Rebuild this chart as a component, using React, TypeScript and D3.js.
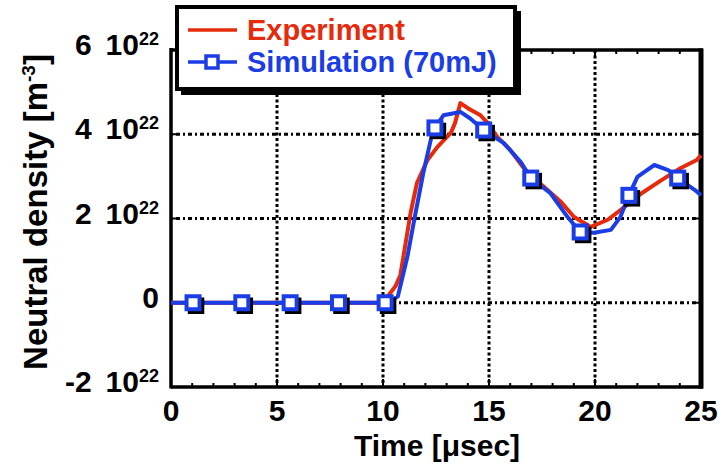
import * as d3 from 'd3';
import React, { useRef, useEffect } from 'react';

// values (density in 1e22 m^-3, time in usec)
const expTime = [0, 10.0, 10.3, 10.6, 10.82, 10.96, 11.3, 11.6, 12.1, 12.57, 13.2, 13.4, 13.65, 14.0, 14.6, 14.9, 15.4, 16.0, 16.6, 17.1, 17.6, 18.4, 19.0, 19.8, 20.6, 21.2, 22.2, 23.1, 24.05, 24.8, 25];
const expDensity = [0, 0, 0.2, 0.4, 0.66, 1.09, 2.13, 2.84, 3.39, 3.7, 4.03, 4.27, 4.74, 4.62, 4.45, 4.29, 3.93, 3.63, 3.22, 2.95, 2.75, 2.39, 2.04, 1.8, 1.97, 2.2, 2.6, 2.9, 3.2, 3.39, 3.5];

const simTime = [0, 1.04, 3.34, 5.62, 7.9, 10.1, 10.3, 10.7, 11.15, 11.5, 11.9, 12.25, 12.45, 12.85, 13.65, 14.1, 14.75, 15.7, 16.5, 16.97, 17.9, 18.7, 19.3, 19.95, 20.75, 21.2, 21.6, 22.0, 22.8, 23.45, 23.9, 24.7, 25];
const simDensity = [0, 0, 0, 0, 0, 0, 0.02, 0.15, 1.09, 2.04, 3.08, 3.86, 4.15, 4.45, 4.53, 4.38, 4.1, 3.79, 3.34, 2.96, 2.6, 2.04, 1.68, 1.66, 1.73, 2.04, 2.55, 2.99, 3.27, 3.15, 2.96, 2.68, 2.55];

const markerTime = [1.04, 3.34, 5.62, 7.9, 10.1, 12.45, 14.75, 16.97, 19.3, 21.6, 23.9];
const markerDensity = [0, 0, 0, 0, 0, 4.15, 4.1, 2.96, 1.68, 2.55, 2.96];

const xTicks = [0, 5, 10, 15, 20, 25];
const yTicks = [-2, 0, 2, 4, 6];
const legendLabels = ['Experiment', 'Simulation (70mJ)'];

const RED = '#e62a0c';
const BLUE = '#1b3de6';
const FONT = "'Liberation Sans', Arial, Helvetica, sans-serif";

function App() {
  const ref = useRef<SVGSVGElement>(null);

  useEffect(() => {
    const svg = d3.select(ref.current);
    svg.selectAll('*').remove();

    const x = d3.scaleLinear().domain([0, 25]).range([171, 701]);
    const y = d3.scaleLinear().domain([-2, 6]).range([387, 50]);

    // grid
    const grid = svg.append('g').attr('stroke', '#000');
    grid.selectAll('line.v')
      .data(xTicks.filter(d => d > 0 && d < 25))
      .enter().append('line')
      .attr('x1', d => x(d)).attr('x2', d => x(d))
      .attr('y1', y(6)).attr('y2', y(-2))
      .attr('stroke-width', 3)
      .attr('stroke-dasharray', '3,2.5');
    grid.selectAll('line.h')
      .data(yTicks.filter(d => d > -2 && d < 6))
      .enter().append('line')
      .attr('x1', x(0)).attr('x2', x(25))
      .attr('y1', d => y(d)).attr('y2', d => y(d))
      .attr('stroke-width', 3)
      .attr('stroke-dasharray', '2,3,4,3');

    // minor ticks top / bottom
    const minor = d3.range(0, 26);
    svg.append('g').selectAll('line')
      .data(minor).enter().append('line')
      .attr('x1', d => x(d)).attr('x2', d => x(d))
      .attr('y1', y(-2)).attr('y2', d => y(-2) - (d % 5 === 0 ? 8 : 4))
      .attr('stroke', '#000').attr('stroke-width', 2);
    svg.append('g').selectAll('line')
      .data(minor).enter().append('line')
      .attr('x1', d => x(d)).attr('x2', d => x(d))
      .attr('y1', y(6)).attr('y2', d => y(6) + (d % 5 === 0 ? 8 : 4))
      .attr('stroke', '#000').attr('stroke-width', 2);
    svg.append('g').selectAll('line')
      .data(yTicks).enter().append('line')
      .attr('x1', x(0)).attr('x2', x(0) + 6)
      .attr('y1', d => y(d)).attr('y2', d => y(d))
      .attr('stroke', '#000').attr('stroke-width', 2);
    svg.append('g').selectAll('line')
      .data(yTicks).enter().append('line')
      .attr('x1', x(25)).attr('x2', x(25) - 6)
      .attr('y1', d => y(d)).attr('y2', d => y(d))
      .attr('stroke', '#000').attr('stroke-width', 2);

    // frame
    svg.append('line').attr('x1', x(0)).attr('x2', x(0)).attr('y1', y(6) - 2).attr('y2', y(-2) + 1.5)
      .attr('stroke', '#000').attr('stroke-width', 3.5);
    svg.append('line').attr('x1', x(0)).attr('x2', x(25) + 2).attr('y1', y(-2)).attr('y2', y(-2))
      .attr('stroke', '#000').attr('stroke-width', 3.5);
    svg.append('line').attr('x1', x(0)).attr('x2', x(25) + 2).attr('y1', y(6)).attr('y2', y(6))
      .attr('stroke', '#000').attr('stroke-width', 3.5);
    svg.append('line').attr('x1', x(25)).attr('x2', x(25)).attr('y1', y(6) - 1.5).attr('y2', y(-2) + 1.5)
      .attr('stroke', '#000').attr('stroke-width', 5);

    // data lines
    const expData = expTime.map((t, i) => [t, expDensity[i]] as [number, number]);
    const simData = simTime.map((t, i) => [t, simDensity[i]] as [number, number]);
    const line = d3.line<[number, number]>().x(d => x(d[0])).y(d => y(d[1]));

    svg.append('path').datum(expData).attr('d', line)
      .attr('fill', 'none').attr('stroke', RED).attr('stroke-width', 4)
      .attr('stroke-linejoin', 'round');
    svg.append('path').datum(simData).attr('d', line)
      .attr('fill', 'none').attr('stroke', BLUE).attr('stroke-width', 4)
      .attr('stroke-linejoin', 'round');

    const mk = 13;
    const marks = svg.append('g').selectAll('g')
      .data(markerTime.map((t, i) => [t, markerDensity[i]]))
      .enter().append('g')
      .attr('transform', d => `translate(${x(d[0])},${y(d[1])})`);
    marks.append('rect')
      .attr('x', -mk / 2 + 3).attr('y', -mk / 2 + 3).attr('width', mk).attr('height', mk)
      .attr('fill', 'none').attr('stroke', '#000').attr('stroke-width', 3.5);
    marks.append('rect')
      .attr('x', -mk / 2).attr('y', -mk / 2).attr('width', mk).attr('height', mk)
      .attr('fill', '#fff').attr('stroke', BLUE).attr('stroke-width', 4);

    // tick labels
    const yl = svg.append('g').attr('font-family', FONT).attr('font-weight', 'bold').attr('font-size', 30);
    yTicks.forEach(v => {
      const t = yl.append('text').attr('x', 159).attr('y', y(v) + 5).attr('text-anchor', 'end');
      if (v === 0) {
        t.text('0');
      } else {
        t.append('tspan').text(`${v < 0 ? '-' : ''}${Math.abs(v)}`);
        t.append('tspan').attr('dx', 14).text('10');
        t.append('tspan').attr('font-size', 18).attr('dy', -10).text('22');
      }
    });
    svg.append('g').selectAll('text')
      .data(xTicks).enter().append('text')
      .attr('x', d => x(d)).attr('y', 421)
      .attr('text-anchor', 'middle')
      .attr('font-family', FONT).attr('font-weight', 'bold').attr('font-size', 30)
      .text(d => d);

    // axis titles
    svg.append('text')
      .attr('x', 437).attr('y', 456).attr('text-anchor', 'middle')
      .attr('font-family', FONT).attr('font-weight', 'bold').attr('font-size', 30)
      .text('Time [\u03bcsec]');
    const yt = svg.append('text')
      .attr('transform', 'translate(47,212) rotate(-90)')
      .attr('text-anchor', 'middle')
      .attr('font-family', FONT).attr('font-weight', 'bold').attr('font-size', 33);
    yt.append('tspan').text('Neutral density [m');
    yt.append('tspan').attr('font-size', 19).attr('dy', -12).text('-3');
    yt.append('tspan').attr('dy', 12).text(']');

    // legend
    const lg = svg.append('g');
    lg.append('rect').attr('x', 181).attr('y', 11).attr('width', 340).attr('height', 84).attr('fill', '#000');
    lg.append('rect').attr('x', 177).attr('y', 7).attr('width', 338).attr('height', 82)
      .attr('fill', '#fff').attr('stroke', '#000').attr('stroke-width', 4);
    const colors = [RED, BLUE];
    legendLabels.forEach((lab, i) => {
      const ly = 30 + i * 32;
      lg.append('line').attr('x1', 188).attr('x2', 237).attr('y1', ly).attr('y2', ly)
        .attr('stroke', colors[i]).attr('stroke-width', 3.5);
      if (i === 1) {
        lg.append('rect').attr('x', 206).attr('y', ly - 6).attr('width', 12).attr('height', 12)
          .attr('fill', '#fff').attr('stroke', BLUE).attr('stroke-width', 3.5);
      }
      lg.append('text').attr('x', 247).attr('y', ly + 10)
        .attr('font-family', FONT).attr('font-weight', 'bold').attr('font-size', 29)
        .attr('fill', colors[i]).text(lab);
    });
  }, []);

  return (
    <svg ref={ref} width={725} height={470}
      style={{ position: 'absolute', left: 0, top: 0, background: '#fff' }} />
  );
}

export default App;
